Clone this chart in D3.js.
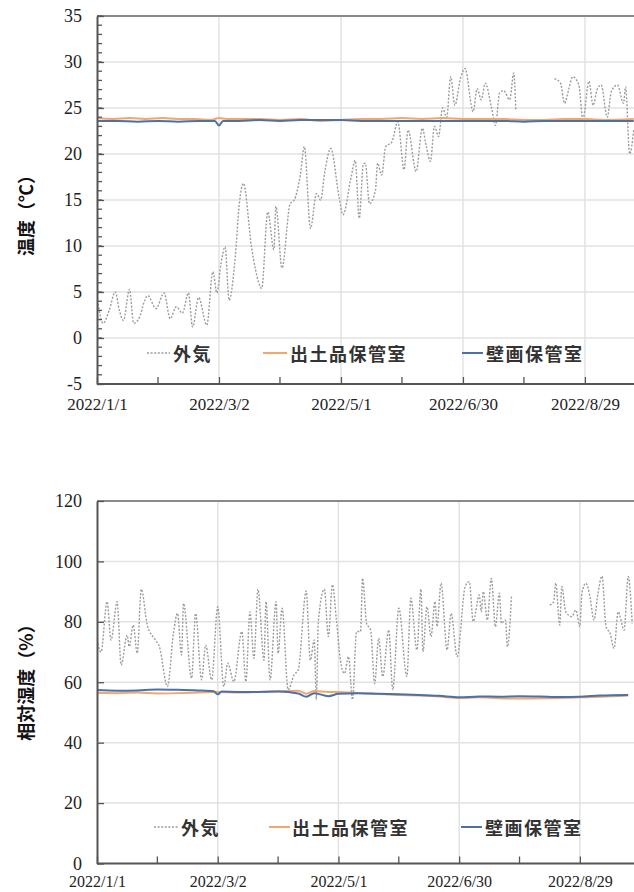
<!DOCTYPE html>
<html>
<head>
<meta charset="utf-8">
<script src="https://cdn.jsdelivr.net/npm/d3@7"></script>
<style>
  body { margin: 0; background: #fff; }
  svg { display: block; }
  .tick text { font-family: "Liberation Serif", "Times New Roman", serif; }
</style>
</head>
<body>
<svg id="chart" width="634" height="892"></svg>
<script>
// day offsets from 2022/1/1 (null = gap in record)
var tempOutside = [
  [0,4.5],[3,1.6],[6,3.0],[9,5.0],[11,3.0],[13,1.9],[16,5.3],[18,1.6],[21,2.3],[23,3.8],[25,4.6],[29,3.2],
  [33,4.9],[36,2.1],[39,3.4],[42,2.7],[45,4.9],[47,1.2],[50,4.4],[54,1.4],[57,7.2],[59,4.9],[61,8.1],[63,9.9],
  [65,4.1],[68,8.8],[70,14.6],[72,16.8],[76,9.9],[78,7.4],[81,5.4],[84,13.7],[87,9.6],[88,14.3],[91,7.6],
  [95,14.6],[97,15],[100,17.7],[102,20.8],[105,11.9],[108,15.7],[110,15],[112,18],[115,20.6],[119,15.4],
  [121,13.4],[125,17.5],[127,19.3],[129,13.0],[131,18.9],[132,19],[134,14.6],[137,16.1],[138,19],[140,17.7],
  [142,20.8],[145,21.3],[148,23.5],[151,18.3],[153,22.6],[157,18.1],[160,22.8],[162,20.8],[164,19.2],[166,23.0],
  [168,21.9],[170,25],[172,24],[174,28.4],[176,25.3],[179,28.4],[181,29.3],[185,24.6],[187,27.1],[189,25.9],
  [191,27.7],[194,25.1],[196,23.1],[198,26.6],[200,26.9],[203,25.9],[205,28.8],[206,24.8],[207,null],
  [225,28.2],[228,27.7],[230,25.5],[232,27],[234,28.4],[237,27.5],[239,23.8],[242,27.9],[244,25.3],[246,27],
  [248,27.5],[251,24],[253,26.8],[256,27.5],[259,25.5],[260,27.3],[262,20],[264,22.6]
];
var tempStorage = [
  [0,23.9],[8,23.8],[16,23.9],[24,23.8],[32,23.9],[40,23.8],[48,23.8],[56,23.7],[60,23.9],[64,23.8],[72,23.8],
  [80,23.8],[90,23.7],[100,23.8],[110,23.6],[120,23.7],[130,23.8],[140,23.8],[150,23.9],[160,23.8],[170,23.9],
  [180,23.8],[190,23.8],[200,23.8],[210,23.7],[220,23.7],[230,23.8],[240,23.8],[250,23.7],[264,23.8]
];
var tempMural = [
  [0,23.6],[10,23.6],[20,23.5],[30,23.6],[40,23.5],[50,23.6],[58,23.6],[60,23.1],[62,23.6],[70,23.6],[80,23.7],
  [90,23.6],[100,23.7],[110,23.7],[120,23.7],[130,23.6],[140,23.6],[150,23.6],[160,23.6],[170,23.6],[180,23.6],
  [190,23.6],[200,23.6],[210,23.5],[220,23.6],[230,23.6],[240,23.6],[250,23.6],[264,23.6]
];

var rhOutside = [
  [0,74],[2,70],[5,86.7],[7,74],[10,86.7],[12,65.7],[15,75.6],[16,71.8],[18,78.9],[20,69.6],[22,90.8],[25,78.9],
  [29,74],[31,71.8],[35,58.6],[38,76.2],[40,82.8],[42,69],[43,86.1],[47,61.3],[49,82.8],[52,60.8],[54,72.3],
  [57,60.8],[60,85],[63,58.6],[65,66.3],[68,60.2],[72,76.8],[74,60.2],[76,83.3],[78,67.9],[80,90.8],[83,67.3],
  [84,86.7],[86,60.8],[89,86.7],[90,69.6],[92,84.5],[95,57.5],[98,62.5],[100,64.1],[104,90.2],[106,67.3],
  [108,74],[109,54.2],[110,80],[113,90.8],[115,75.1],[117,92.3],[119,80.6],[121,67.3],[123,62.9],[125,68.5],
  [127,54.2],[129,76.8],[131,76.8],[132,94.4],[134,79.5],[136,77.3],[138,59.6],[140,74.6],[142,61.9],[145,77.3],
  [147,57.5],[150,84.5],[154,61.9],[156,87.8],[159,70.7],[161,90.8],[162,70.1],[164,85],[166,75.1],[168,86.7],
  [169,78.4],[171,92.8],[174,70.7],[176,82.8],[179,68.5],[183,91.7],[185,93.3],[187,80.1],[190,88.9],[191,83.3],
  [192,90],[194,80.6],[196,94.4],[198,78.4],[200,89.5],[201,79.5],[203,80.6],[204,71.8],[206,88.4],[207,null],
  [225,85.6],[227,86.7],[228,92.8],[230,78.9],[231,91.7],[233,83.3],[236,81.7],[238,83.9],[240,78.4],[241,89.5],
  [243,92.8],[245,88.4],[247,80.6],[249,89.5],[251,95.1],[253,78.4],[255,76.2],[257,71.2],[259,83.3],[262,77.3],
  [264,95],[266,79.5]
];
var rhStorage = [
  [0,56.5],[10,56.4],[20,56.6],[30,56.3],[40,56.4],[50,56.6],[60,56.8],[70,56.6],[80,56.8],[90,57.0],[100,57.2],
  [104,56.2],[108,57.1],[115,56.8],[120,56.8],[130,56.4],[140,56.1],[150,55.8],[160,55.6],[170,55.3],[180,54.8],
  [190,55.0],[200,54.7],[210,54.6],[220,54.7],[230,54.8],[240,55.0],[250,55.2],[264,55.6]
];
var rhMural = [
  [0,57.4],[10,57.2],[20,57.3],[30,57.6],[40,57.5],[50,57.3],[58,57.0],[60,56.0],[62,56.9],[70,56.8],[80,56.8],
  [90,56.9],[100,56.3],[104,55.2],[108,56.4],[115,55.4],[120,56.2],[130,56.4],[140,56.2],[150,56.0],[160,55.8],
  [170,55.5],[180,55.0],[190,55.3],[200,55.2],[210,55.4],[220,55.3],[230,55.1],[240,55.2],[250,55.6],[264,55.8]
];

var seriesNames = ["外気", "出土品保管室", "壁画保管室"];
var xTickDays = [0, 60, 120, 180, 240];
var xMinorDays = [30, 90, 150, 210, 270];
var tempTicks = [-5, 0, 5, 10, 15, 20, 25, 30, 35];
var rhTicks = [0, 20, 40, 60, 80, 100, 120];

var start = new Date(2022, 0, 1);
function toDate(d) { return d3.timeDay.offset(start, d); }
var fmt = d3.timeFormat("%Y/%-m/%-d");

var svg = d3.select("#chart");
svg.append("rect").attr("width", 634).attr("height", 892).attr("fill", "#fff");

var colors = { out: "#9c9c9c", storage: "#f2a56c", mural: "#4a72a8" };

function panel(cfg) {
  var x = d3.scaleTime()
    .domain([toDate(0), toDate(300)])
    .range([cfg.left, cfg.left + 300 * cfg.pxPerDay]);
  var y = d3.scaleLinear().domain(cfg.yDomain).range([cfg.bottom, cfg.top]);

  var g = svg.append("g");
  var clipId = "clip-" + cfg.id;
  svg.append("clipPath").attr("id", clipId)
    .append("rect")
    .attr("x", cfg.left).attr("y", cfg.top - 2)
    .attr("width", 640 - cfg.left).attr("height", cfg.bottom - cfg.top + 2);

  // grid
  g.append("g").selectAll("line").data(cfg.yTicks.slice(1))
    .join("line")
    .attr("x1", cfg.left).attr("x2", 640)
    .attr("y1", d => y(d)).attr("y2", d => y(d))
    .attr("stroke", "#e2e2e2").attr("stroke-width", 1.5);
  g.append("g").selectAll("line").data(xTickDays.slice(1))
    .join("line")
    .attr("x1", d => x(toDate(d))).attr("x2", d => x(toDate(d)))
    .attr("y1", cfg.top).attr("y2", cfg.bottom)
    .attr("stroke", "#e2e2e2").attr("stroke-width", 1.5);

  // lines
  var line = d3.line()
    .defined(d => d[1] !== null)
    .x(d => x(toDate(d[0])))
    .y(d => y(d[1]))
    .curve(d3.curveMonotoneX);

  var lines = g.append("g").attr("clip-path", "url(#" + clipId + ")");
  lines.append("path").datum(cfg.outside)
    .attr("d", line).attr("fill", "none")
    .attr("stroke", colors.out).attr("stroke-width", 1.4)
    .attr("stroke-dasharray", "2,1.6");
  lines.append("path").datum(cfg.storage)
    .attr("d", line).attr("fill", "none")
    .attr("stroke", colors.storage).attr("stroke-width", 2);
  lines.append("path").datum(cfg.mural)
    .attr("d", line).attr("fill", "none")
    .attr("stroke", colors.mural).attr("stroke-width", 2);

  // top border
  g.append("line")
    .attr("x1", cfg.left).attr("x2", 640)
    .attr("y1", cfg.top).attr("y2", cfg.top)
    .attr("stroke", "#8a8a8a").attr("stroke-width", 2);

  // axes
  var yAxis = d3.axisLeft(y).tickValues(cfg.yTicks).tickFormat(d => String(d))
    .tickSizeInner(-7).tickSizeOuter(0).tickPadding(15);
  var ya = g.append("g").attr("transform", "translate(" + cfg.left + ",0)").call(yAxis);
  var xAxis = d3.axisBottom(x).tickValues(xTickDays.map(toDate))
    .tickFormat(fmt).tickSizeInner(-7).tickSizeOuter(0).tickPadding(cfg.xPad);
  var xa = g.append("g").attr("transform", "translate(0," + cfg.bottom + ")").call(xAxis);
  xa.append("g").selectAll("line").data(xMinorDays)
    .join("line")
    .attr("x1", d => x(toDate(d))).attr("x2", d => x(toDate(d)))
    .attr("y1", 0).attr("y2", -7);
  if (cfg.yMinor) {
    ya.append("g").selectAll("line").data(d3.range(cfg.yDomain[0], cfg.yDomain[1] + 0.01, 1))
      .join("line")
      .attr("x1", 0).attr("x2", 5)
      .attr("y1", d => y(d)).attr("y2", d => y(d));
  }
  [ya, xa].forEach(function (a) {
    a.attr("font-family", null);
    a.select(".domain").attr("stroke", "#555").attr("stroke-width", 2);
    a.selectAll("line").attr("stroke", "#555").attr("stroke-width", 1.3);
    a.selectAll("text").attr("fill", "#222");
  });
  ya.selectAll("text").style("font-size", "18px");
  xa.selectAll("text").style("font-size", cfg.xFont);
  xa.select(".domain").attr("d", "M" + cfg.left + ",0H640");

  // y title
  g.append("text")
    .attr("transform", "translate(" + cfg.titleX + "," + cfg.titleY + ") rotate(-90)")
    .attr("text-anchor", "middle")
    .attr("dominant-baseline", "central")
    .attr("font-family", "'Noto Sans CJK JP', sans-serif")
    .attr("font-weight", "bold")
    .attr("font-size", "18px")
    .attr("fill", "#111")
    .text(cfg.title);

  // legend
  var styles = [
    { color: colors.out, dash: "2,1.6", w: 1.4 },
    { color: colors.storage, dash: null, w: 2 },
    { color: colors.mural, dash: null, w: 2 }
  ];
  var leg = g.append("g").attr("transform", "translate(0," + cfg.legendY + ")");
  seriesNames.forEach(function (name, i) {
    var p = cfg.legendPos[i];
    leg.append("line")
      .attr("x1", p[0]).attr("x2", p[1]).attr("y1", 0).attr("y2", 0)
      .attr("stroke", styles[i].color).attr("stroke-width", styles[i].w)
      .attr("stroke-dasharray", styles[i].dash);
    leg.append("text")
      .attr("x", p[2]).attr("y", 0)
      .attr("dominant-baseline", "central")
      .attr("font-family", "'Noto Sans CJK JP', sans-serif")
      .attr("font-weight", "bold")
      .attr("font-size", "18px")
      .attr("letter-spacing", "1.5px")
      .attr("fill", "#333")
      .text(name);
  });
}

panel({
  id: "temp", left: 97, top: 16, bottom: 384, pxPerDay: 2.033, xPad: 14, xFont: "17px",
  yDomain: [-5, 35], yTicks: tempTicks, yMinor: true,
  outside: tempOutside, storage: tempStorage, mural: tempMural,
  title: "温度（℃）", titleX: 25, titleY: 211,
  legendY: 353, legendPos: [[147, 170, 173], [263, 287, 290], [462, 483, 486]]
});

panel({
  id: "rh", left: 97, top: 501, bottom: 863.5, pxPerDay: 2.012, xPad: 12, xFont: "16px",
  yDomain: [0, 120], yTicks: rhTicks, yMinor: false,
  outside: rhOutside, storage: rhStorage, mural: rhMural,
  title: "相対湿度（%）", titleX: 25, titleY: 678,
  legendY: 827, legendPos: [[154, 178, 181], [269, 290, 292], [461, 482, 485]]
});
</script>
</body>
</html>
